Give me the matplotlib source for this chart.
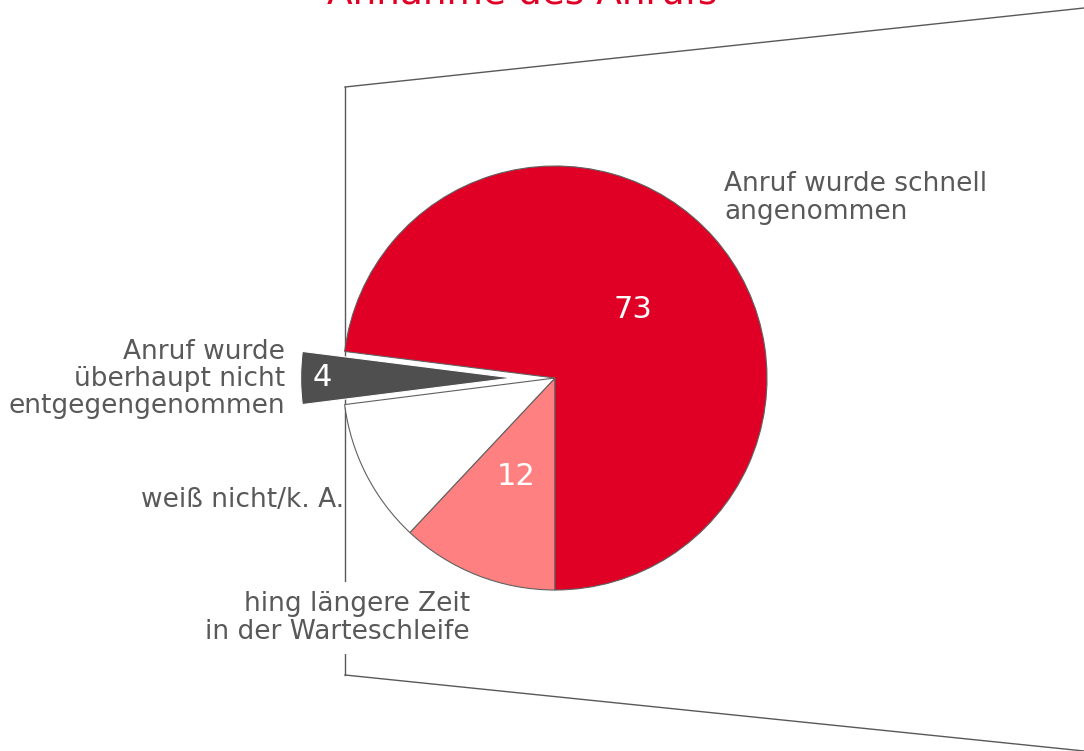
import numpy as np
import matplotlib.pyplot as plt
from matplotlib.lines import Line2D

# Data (order: clockwise from 6 o'clock)
categories = ['hing längere Zeit\nin der Warteschleife', 'weiß nicht/k. A.',
              'Anruf wurde\nüberhaupt nicht\nentgegengenommen',
              'Anruf wurde schnell\nangenommen']
values = [12, 11, 4, 73]
shown = ['12', '', '4', '73']
colors = ['#ff8080', '#ffffff', '#4f4f4f', '#e00025']
explode = [0, 0, 0.2, 0]
num_dist = [0.5, 0.5, 0.9, 0.49]

TITLE = 'Annahme des Anrufs'
W, H = 1084, 751
GREY = '#595959'

fig = plt.figure(figsize=(W / 100, H / 100), dpi=100)
ax = fig.add_axes([0, 0, 1, 1])
ax.set_aspect('equal')

def py(y):
    # image y (down) -> axes y (up)
    return H - y

# perspective frame behind the pie
frame = [((345, 87), (1084, 8)), ((345, 87), (345, 675)), ((345, 675), (1084, 751))]
for (x0, y0), (x1, y1) in frame:
    ax.add_line(Line2D([x0, x1], [py(y0), py(y1)], color=GREY, lw=1, zorder=0))

cx, cy, r = 555, py(378), 212
# pie's explode is in data units, so scale by radius
wedges, _ = ax.pie(values, colors=colors, explode=[e * r for e in explode],
                   startangle=-90, counterclock=False, center=(cx, cy), radius=r,
                   wedgeprops=dict(edgecolor='#606060', linewidth=0.8),
                   frame=True)
wedges[2].set_edgecolor('white')
ax.set_xlim(0, W)
ax.set_ylim(0, H)
ax.axis('off')

for w, txt, d in zip(wedges, shown, num_dist):
    if not txt:
        continue
    ang = np.deg2rad((w.theta1 + w.theta2) / 2)
    x0, y0 = w.center
    ax.text(x0 + d * r * np.cos(ang), y0 + d * r * np.sin(ang), txt,
            color='white', fontsize=22, ha='center', va='center', zorder=5)

lab_kw = dict(color=GREY, fontsize=19, linespacing=1.07, zorder=5)
ax.text(724, py(198), categories[3], ha='left', va='center', **lab_kw)
ax.text(285, py(379), categories[2], ha='right', va='center', multialignment='right', **lab_kw)
ax.text(344, py(500), categories[1], ha='right', va='center', **lab_kw)
ax.text(470, py(618), categories[0], ha='right', va='center', multialignment='right',
        bbox=dict(facecolor='white', edgecolor='none', pad=7), **lab_kw)

ax.text(522, py(4), TITLE, color='#e00025', fontsize=27, ha='center', va='baseline')

fig.savefig('out.png', dpi=100)
